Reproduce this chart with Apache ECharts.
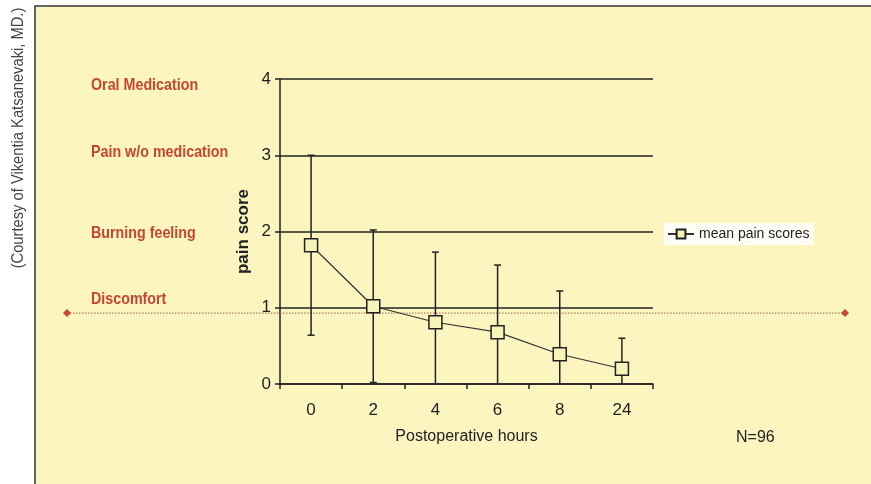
<!DOCTYPE html>
<html>
<head>
<meta charset="utf-8">
<script src="https://cdn.jsdelivr.net/npm/echarts@6/dist/echarts.min.js"></script>
<style>
  html, body { margin: 0; padding: 0; background: #fff; }
  #main { width: 871px; height: 484px; }
</style>
</head>
<body>
<div id="main"></div>
<script>
// postoperative hours
const hours = ["0", "2", "4", "6", "8", "24"];
// mean pain scores
const meanScores = [1.82, 1.02, 0.81, 0.68, 0.39, 0.2];
// error bar ends (lower 0 = runs down to axis, no cap)
const lowerEnd = [0.64, 0.02, 0, 0, 0, 0];
const upperEnd = [3.0, 2.02, 1.73, 1.56, 1.22, 0.6];
// left-hand scale descriptions and where they sit
const scaleLabels = ["Oral Medication", "Pain w/o medication", "Burning feeling", "Discomfort"];
const scaleLabelValues = [3.92, 3.04, 1.98, 1.11];
const discomfortLine = 0.93;

const font = '"Liberation Sans Narrow", "Liberation Sans", Arial, sans-serif';
const chart = echarts.init(document.getElementById("main"));

const errData = hours.map((h, i) => [i, lowerEnd[i], upperEnd[i]]);

const option = {
  animation: false,
  backgroundColor: "#fff",
  grid: { left: 280, top: 79, width: 373, height: 305 },
  legend: {
    data: ["mean pain scores"],
    left: 664,
    top: 223,
    backgroundColor: "#fffef6",
    padding: [4, 4, 4, 3],
    itemWidth: 26,
    itemHeight: 11,
    itemGap: 2,
    textStyle: { fontFamily: font, fontSize: 14, color: "#222" }
  },
  xAxis: {
    type: "category",
    data: hours,
    name: "Postoperative hours",
    nameLocation: "middle",
    nameGap: 45,
    nameTextStyle: { fontFamily: font, fontSize: 16, color: "#222" },
    axisLine: { lineStyle: { color: "#222", width: 1.5 } },
    axisTick: { show: true, length: 5, lineStyle: { color: "#222", width: 1.5 } },
    axisLabel: { fontFamily: font, fontSize: 17, color: "#222", margin: 18 }
  },
  yAxis: {
    type: "value",
    min: 0,
    max: 4,
    interval: 1,
    name: "pain score",
    nameLocation: "middle",
    nameGap: 28,
    nameRotate: 90,
    nameTextStyle: { fontFamily: font, fontSize: 17, fontWeight: "bold", color: "#222" },
    axisLine: { show: true, lineStyle: { color: "#222", width: 1.5 } },
    axisTick: { show: true, length: 5, lineStyle: { color: "#222", width: 1.5 } },
    axisLabel: { fontFamily: font, fontSize: 17, color: "#222", margin: 9 },
    splitLine: { lineStyle: { color: "#222", width: 1.5 } }
  },
  series: [
    {
      type: "custom",
      name: "error",
      data: errData,
      encode: { x: 0, y: [1, 2] },
      z: 2,
      renderItem: function (params, api) {
        const lo = api.coord([api.value(0), api.value(1)]);
        const hi = api.coord([api.value(0), api.value(2)]);
        const cap = 3.5;
        const st = { stroke: "#222", lineWidth: 1.5 };
        const children = [
          { type: "line", shape: { x1: hi[0], y1: lo[1], x2: hi[0], y2: hi[1] }, style: st },
          { type: "line", shape: { x1: hi[0] - cap, y1: hi[1], x2: hi[0] + cap, y2: hi[1] }, style: st }
        ];
        if (api.value(1) > 0) {
          children.push({ type: "line", shape: { x1: lo[0] - cap, y1: lo[1], x2: lo[0] + cap, y2: lo[1] }, style: st });
        }
        return { type: "group", children: children };
      }
    },
    {
      type: "line",
      name: "mean pain scores",
      data: meanScores,
      z: 3,
      symbol: "rect",
      symbolSize: 13,
      lineStyle: { color: "#333", width: 1.2 },
      itemStyle: { color: "#f8f3b8", borderColor: "#222", borderWidth: 1.5 }
    }
  ]
};
chart.setOption(option);

// annotations: frame, courtesy text, scale descriptions, discomfort line
const yLine = chart.convertToPixel({ yAxisIndex: 0 }, discomfortLine);
const diamond = (cx) => ({
  type: "polygon",
  z: 1,
  shape: { points: [[cx - 4, yLine], [cx, yLine - 4], [cx + 4, yLine], [cx, yLine + 4]] },
  style: { fill: "#c8452f" }
});
const graphics = [
  {
    type: "rect",
    z: -10,
    shape: { x: 35, y: 6, width: 845, height: 490 },
    style: { fill: "#fdf5c0", stroke: "#333", lineWidth: 1.5 }
  },
  {
    type: "text",
    x: 27,
    y: 138,
    rotation: Math.PI / 2,
    scaleX: 0.92,
    style: {
      text: "(Courtesy of Vikentia Katsanevaki, MD.)",
      fontFamily: font,
      fontSize: 16,
      fill: "#444",
      align: "center",
      verticalAlign: "bottom"
    }
  },
  {
    type: "polyline",
    z: 1,
    shape: { points: [[67, yLine], [845, yLine]] },
    style: { stroke: "#a0604e", lineWidth: 1, lineDash: [1.5, 1.5] }
  },
  diamond(67),
  diamond(845)
];
scaleLabels.forEach((t, i) => {
  graphics.push({
    type: "text",
    x: 91,
    y: chart.convertToPixel({ yAxisIndex: 0 }, scaleLabelValues[i]),
    scaleX: 0.84,
    style: {
      text: t,
      fontFamily: font,
      fontSize: 17,
      fontWeight: "bold",
      fill: "#c8452f",
      verticalAlign: "middle"
    }
  });
});
graphics.push({
  type: "text",
  x: 736,
  y: 438,
  style: { text: "N=96", fontFamily: font, fontSize: 16, fill: "#222", verticalAlign: "middle" }
});
chart.setOption({ graphic: graphics });
</script>
</body>
</html>
